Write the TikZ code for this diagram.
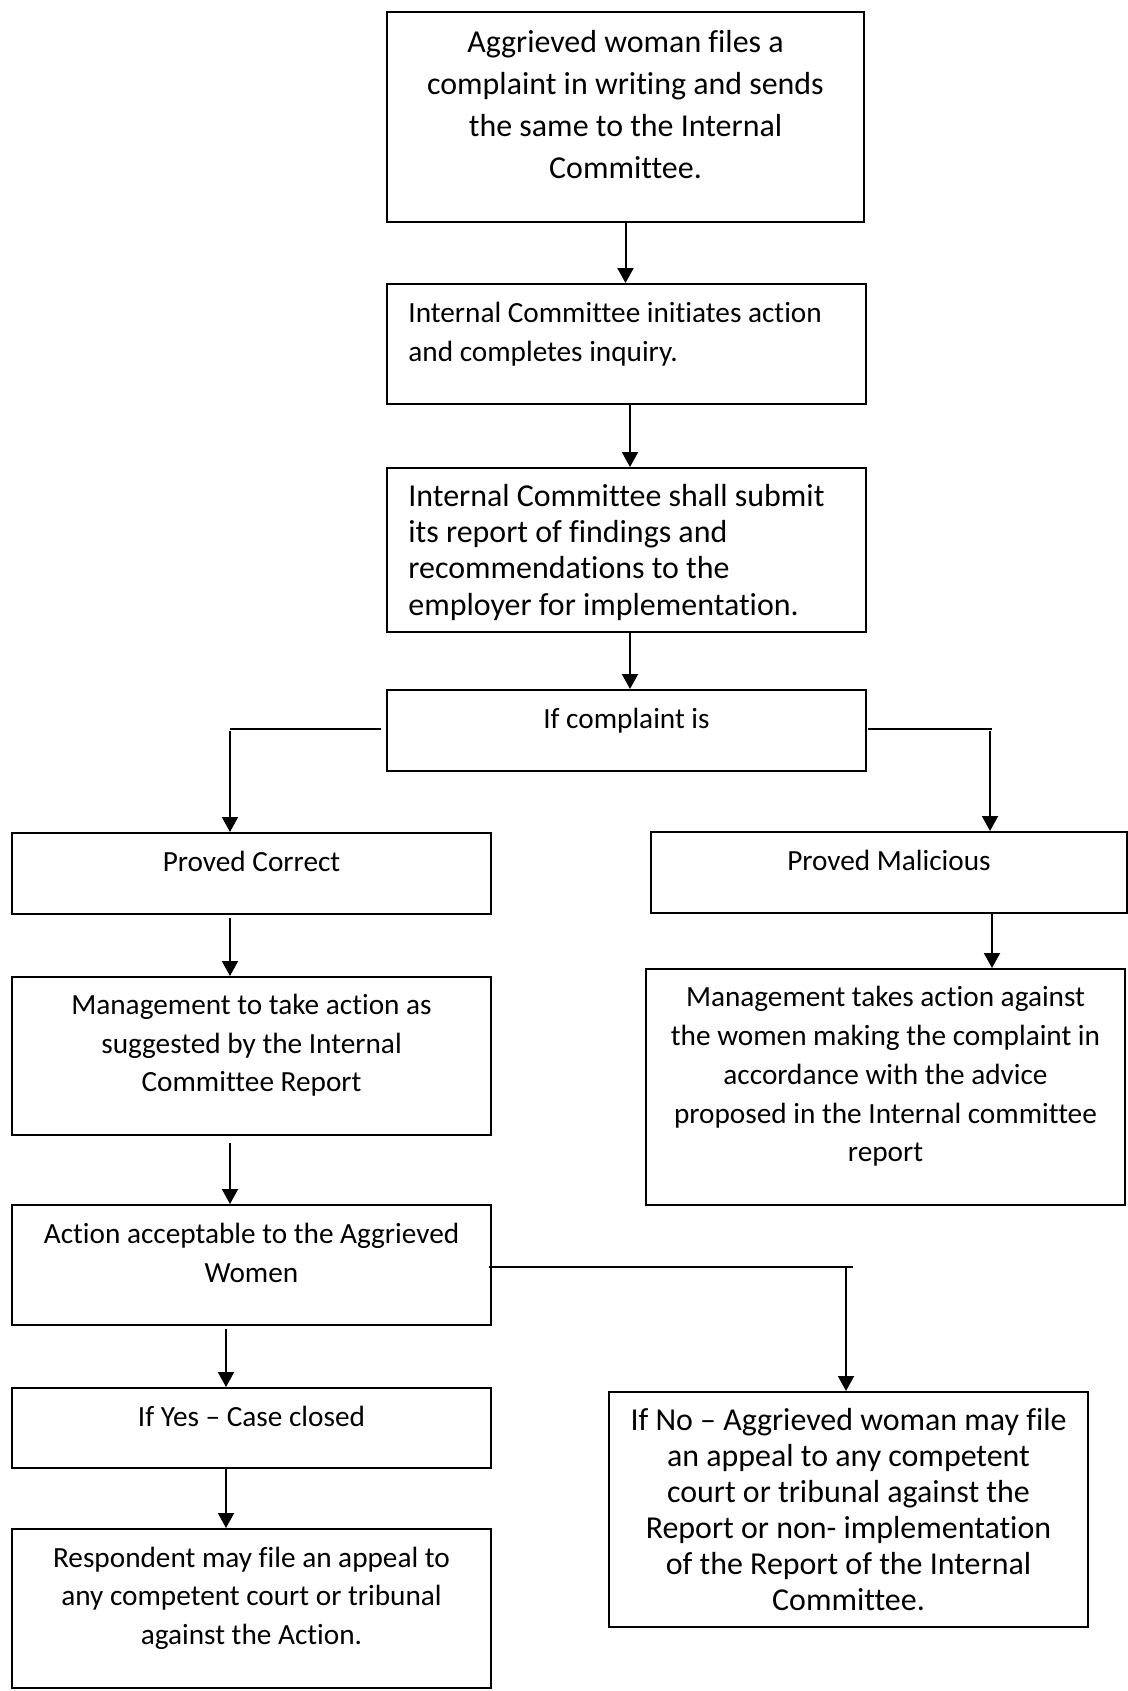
\documentclass[tikz,border=0pt]{standalone}
\usepackage{fontspec}
\setmainfont{Carlito}[Ligatures={NoCommon}]
\usetikzlibrary{arrows.meta,calc}
\begin{document}
\begin{tikzpicture}[x=0.5pt,y=-0.5pt,
  bx/.style={draw=black, line width=1pt, inner sep=0pt, minimum width=239.5pt},
  tS/.style={inner sep=0pt, anchor=base, align=center, font=\fontsize{14.63}{19.2}\selectfont},
  tL/.style={inner sep=0pt, anchor=base, align=center, font=\fontsize{15.96}{18}\selectfont},
  arr/.style={line width=1pt, -{Triangle[length=7.5pt,width=8pt]}},
  thinln/.style={line width=0.6pt}
]
\path[fill=white, use as bounding box] (0,0) rectangle (1128,1691);

% boxes (text nodes are anchored at the baseline of their last line)
\node[bx, minimum width=238.5pt, minimum height=105pt] (b1) at (625.5,117) {};
\node[tL, font=\fontsize{15.96}{20.9}\selectfont] (t1) at (625.5,178) {Aggrieved woman files a\\complaint in writing and sends\\the same to the Internal\\Committee.};

\node[bx, minimum height=60pt] (b2) at (626.5,344) {};
\node[tS, anchor=base west, align=left, font=\fontsize{14.63}{19.15}\selectfont] (t2) at (408,361) {Internal Committee initiates action\\and completes inquiry.};

\node[bx, minimum height=82pt] (b3) at (626.5,550) {};
\node[tL, anchor=base west, align=left, font=\fontsize{15.96}{18.05}\selectfont] (t3) at (408,615) {Internal Committee shall submit\\its report of findings and\\recommendations to the\\employer for implementation.};

\node[bx, minimum height=40.5pt] (b4) at (626.5,730.5) {};
\node[tS] (t4) at (626.5,728.3) {If complaint is};

\node[bx, minimum height=40.5pt] (b5) at (251.5,873.5) {};
\node[tS] (t5) at (251.5,871.7) {Proved Correct};

\node[bx, minimum width=238pt, minimum height=40.5pt] (b6) at (889,872.5) {};
\node[tS] (t6) at (889,870.7) {Proved Malicious};

\node[bx, minimum height=79pt] (b7) at (251.5,1056) {};
\node[tS] (t7) at (251.5,1091.7) {Management to take action as\\suggested by the Internal\\Committee Report};

\node[bx, minimum height=118pt] (b8) at (885.5,1087) {};
\node[tS, font=\fontsize{14.63}{19.35}\selectfont] (t8) at (885.5,1161.7) {Management takes action against\\the women making the complaint in\\accordance with the advice\\proposed in the Internal committee\\report};

\node[bx, minimum height=60pt] (b9) at (251.5,1265) {};
\node[tS, font=\fontsize{14.63}{19.7}\selectfont] (t9) at (251.5,1282.7) {Action acceptable to the Aggrieved\\Women};

\node[bx, minimum height=40pt] (b10) at (251.5,1428) {};
\node[tS] (t10) at (251.5,1426) {If Yes – Case closed};

\node[bx, minimum height=79.5pt] (b11) at (251.5,1608.5) {};
\node[tS, font=\fontsize{14.63}{19.25}\selectfont] (t11) at (251.5,1644) {Respondent may file an appeal to\\any competent court or tribunal\\against the Action.};

\node[bx, minimum height=117.5pt] (b12) at (848.5,1509.5) {};
\node[tL] (t12) at (848.5,1610.7) {If No – Aggrieved woman may file\\an appeal to any competent\\court or tribunal against the\\Report or non- implementation\\of the Report of the Internal\\Committee.};

% connectors
\draw[arr] (b1.south) -- (b1.south |- b2.north);
\coordinate (c2) at ($(b2.south)+(3.5,0)$);
\draw[arr] (c2) -- (c2 |- b3.north);
\coordinate (c3) at ($(b3.south)+(3.5,0)$);
\draw[arr] (c3) -- (c3 |- b4.north);

\coordinate (jl) at (230,729);
\draw[thinln] ($(b4.west)+(-5,-1.5)$) -- (jl);
\coordinate (jl2) at ($(jl)+(0,2)$);
\draw[arr] (jl2) -- (jl2 |- b5.north);

\coordinate (jr) at (990,729);
\draw[thinln] ($(b4.east)+(1,-1.5)$) -- ($(jr)+(2,0)$);
\coordinate (jr2) at ($(jr)+(0,2)$);
\draw[arr] (jr2) -- (jr2 |- b6.north);

\coordinate (c6) at ($(b6.south)+(103,0)$);
\draw[arr] (c6) -- (c6 |- b8.north);

\coordinate (c5) at ($(b5.south)+(-21.5,3)$);
\draw[arr] (c5) -- (c5 |- b7.north);
\coordinate (c7) at ($(b7.south)+(-21.5,7)$);
\draw[arr] (c7) -- (c7 |- b9.north);
\coordinate (c9) at ($(b9.south)+(-25.5,3)$);
\draw[arr] (c9) -- (c9 |- b10.north);
\coordinate (c10) at ($(b10.south)+(-25.5,0)$);
\draw[arr] (c10) -- (c10 |- b11.north);

\coordinate (jn) at (846,1267);
\draw[thinln] ($(b9.east)+(-3,2)$) -- ($(jn)+(7,0)$);
\coordinate (jn2) at ($(jn)+(0,1)$);
\draw[arr] (jn2) -- (jn2 |- b12.north);
\end{tikzpicture}
\end{document}
